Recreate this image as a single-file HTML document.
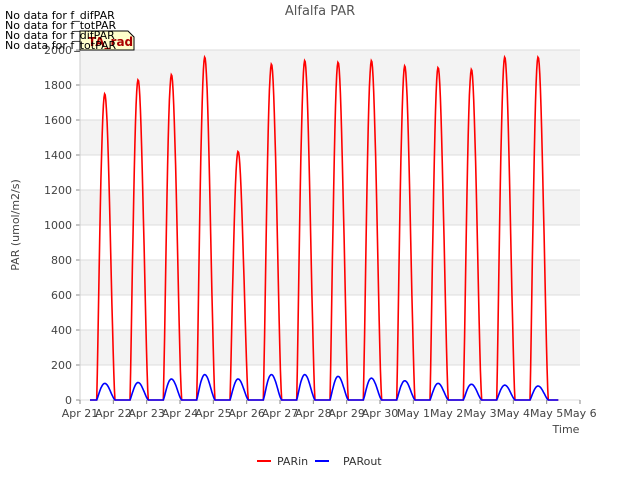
<!DOCTYPE html>
<html><head><meta charset="utf-8"><style>
body{margin:0;background:#fff;font-family:"Liberation Sans","DejaVu Sans",sans-serif;}
svg text{font-family:"DejaVu Sans","Liberation Sans",sans-serif;}
</style></head><body>
<svg id="c" width="640" height="480">
<text x="320" y="15" text-anchor="middle" font-size="13" fill="#555">Alfalfa PAR</text>
<g id="plot"></g>
<text x="566" y="433" text-anchor="middle" font-size="11" fill="#444">Time</text>
<text transform="translate(19,225) rotate(-90)" text-anchor="middle" font-size="11" fill="#444">PAR (umol/m2/s)</text>
<g>
<line x1="257" y1="461" x2="271" y2="461" stroke="#f00" stroke-width="2"/>
<text x="277" y="465" font-size="11" fill="#333">PARin</text>
<line x1="315" y1="461" x2="329" y2="461" stroke="#00f" stroke-width="2"/>
<text x="343" y="465" font-size="11" fill="#333">PARout</text>
</g>
<path d="M80,31 H128 L134,37 V50 H80 Z" fill="#ffffcc" stroke="#000" stroke-width="1"/>
<text x="88" y="46" font-size="12" font-weight="bold" fill="#a00">TA_rad</text>
<g font-size="11" fill="#000">
<text x="5" y="19">No data for f_difPAR</text>
<text x="5" y="29">No data for f_totPAR</text>
<text x="5" y="39">No data for f_difPAR</text>
<text x="5" y="49">No data for f_totPAR</text>
</g>
</svg>
<script>
const dayLabels=["Apr 21","Apr 22","Apr 23","Apr 24","Apr 25","Apr 26","Apr 27","Apr 28","Apr 29","Apr 30","May 1","May 2","May 3","May 4","May 5","May 6"];
const yTicks=[0,200,400,600,800,1000,1200,1400,1600,1800,2000];
const parInPeaks=[1750,1830,1860,1960,1420,1920,1940,1930,1940,1910,1900,1890,1960,1960];
const parOutPeaks=[95,100,120,145,120,145,145,135,125,110,95,90,85,80];
const X0=80,X1=580,Y0=400,Y1=50;
const xs=d=>X0+(d/15)*(X1-X0);
const ys=v=>Y0-(v/2000)*(Y0-Y1);
const NS="http://www.w3.org/2000/svg";
const g=document.getElementById('plot');
function mk(t,a){const e=document.createElementNS(NS,t);for(const k in a)e.setAttribute(k,a[k]);g.appendChild(e);return e;}
for(let i=0;i<10;i++){if(i%2==1){const r=mk('rect',{x:X0,y:ys(yTicks[i+1]),width:X1-X0,height:ys(yTicks[i])-ys(yTicks[i+1]),fill:'#f3f3f3'});

}}
yTicks.forEach(v=>{const l=mk('line',{x1:X0,x2:X1,y1:ys(v),y2:ys(v),stroke:'#ddd'});


mk('line',{x1:X0-4,x2:X0,y1:ys(v),y2:ys(v),stroke:'#888'});
const t=mk('text',{x:X0-8,y:ys(v)+4,'text-anchor':'end','font-size':11,fill:'#444'});t.textContent=v;

});
dayLabels.forEach((s,i)=>{mk('line',{x1:xs(i),x2:xs(i),y1:Y0,y2:Y0+4,stroke:'#888'});
const t=mk('text',{x:xs(i),y:Y0+17,'text-anchor':'middle','font-size':11,fill:'#444'});t.textContent=s;

});
mk('line',{x1:X0,x2:X0,y1:Y1,y2:Y0,stroke:'#ccc'});
function series(peaks,color,name,lenEnd){
 let pts=[[0.3,0]];
 peaks.forEach((p,i)=>{
  const a=i+0.5,b=i+1.05;
  pts.push([a,0]);
  for(let k=1;k<30;k++){const f=k/30;const s=Math.pow(Math.sin(Math.PI*Math.pow(f,0.85)),1.4);pts.push([a+(b-a)*f,p*s]);}
  pts.push([b,0]);
 });
 pts.push([lenEnd,0]);
 const p=mk('path',{d:'M'+pts.map(q=>xs(q[0]).toFixed(1)+','+ys(q[1]).toFixed(1)).join('L'),fill:'none',stroke:color,'stroke-width':1.6});
 
 
}
series(parInPeaks,'#f00','parin-line',14.35);
series(parOutPeaks,'#00f','parout-line',14.35);
</script>
</body></html>
